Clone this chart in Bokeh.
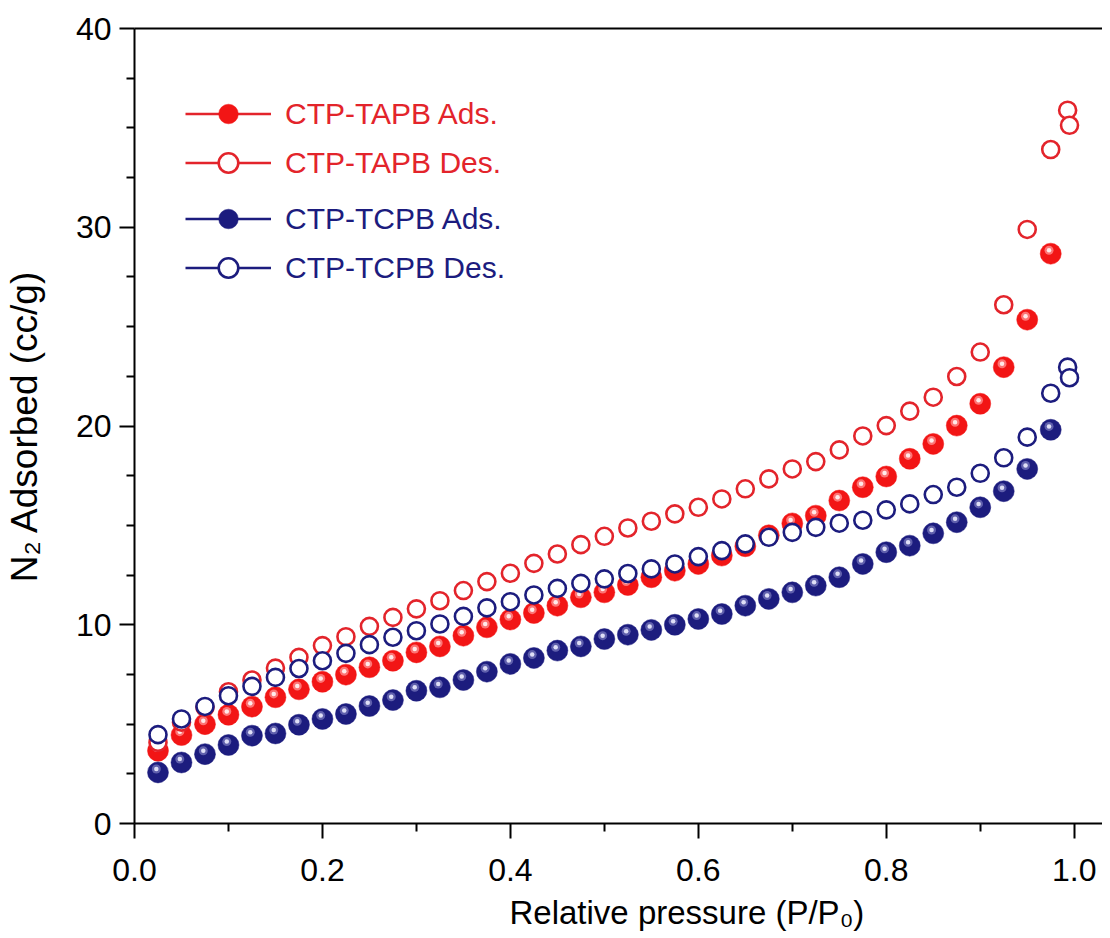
import numpy as np
from bokeh.plotting import figure
from bokeh.models import Range1d, FixedTicker, LinearAxis, Legend, LegendItem, Title
from bokeh.embed import file_html
from bokeh.resources import INLINE

# ---------------- data ----------------
p_ads = [0.025, 0.05, 0.075, 0.1, 0.125, 0.15, 0.175, 0.2, 0.225, 0.25,
         0.275, 0.3, 0.325, 0.35, 0.375, 0.4, 0.425, 0.45, 0.475, 0.5,
         0.525, 0.55, 0.575, 0.6, 0.625, 0.65, 0.675, 0.7, 0.725, 0.75,
         0.775, 0.8, 0.825, 0.85, 0.875, 0.9, 0.925, 0.95, 0.975]
p_des = p_ads + [0.993, 0.995]

tapb_ads = [3.66, 4.45, 5.00, 5.47, 5.88, 6.35, 6.75, 7.13, 7.49, 7.86,
            8.19, 8.61, 8.91, 9.45, 9.87, 10.26, 10.59, 10.96, 11.38, 11.63,
            12.00, 12.39, 12.72, 13.06, 13.48, 13.95, 14.50, 15.10, 15.49, 16.25,
            16.92, 17.46, 18.35, 19.10, 20.02, 21.12, 22.96, 25.35, 28.67]
tapb_des = [4.08, 5.10, 5.85, 6.63, 7.22, 7.82, 8.36, 8.95, 9.40, 9.92,
            10.37, 10.80, 11.21, 11.72, 12.17, 12.59, 13.09, 13.56, 14.03, 14.45,
            14.87, 15.21, 15.58, 15.91, 16.33, 16.84, 17.34, 17.84, 18.21, 18.80,
            19.50, 20.02, 20.75, 21.45, 22.49, 23.72, 26.10, 29.89, 33.91,
            35.89, 35.13]
tcpb_ads = [2.57, 3.07, 3.49, 3.95, 4.42, 4.53, 4.97, 5.26, 5.51, 5.91,
            6.21, 6.68, 6.85, 7.22, 7.64, 8.03, 8.33, 8.70, 8.91, 9.28,
            9.50, 9.74, 10.00, 10.29, 10.54, 10.96, 11.30, 11.63, 11.97, 12.39,
            13.06, 13.65, 13.98, 14.60, 15.16, 15.91, 16.72, 17.84, 19.81]
tcpb_des = [4.47, 5.26, 5.89, 6.43, 6.90, 7.35, 7.80, 8.19, 8.56, 9.00,
            9.37, 9.70, 10.04, 10.42, 10.85, 11.16, 11.50, 11.83, 12.08, 12.31,
            12.58, 12.81, 13.06, 13.43, 13.73, 14.07, 14.40, 14.65, 14.90, 15.11,
            15.26, 15.78, 16.08, 16.55, 16.92, 17.62, 18.40, 19.44, 21.65,
            22.96, 22.43]

series_labels = ["CTP-TAPB Ads.", "CTP-TAPB Des.", "CTP-TCPB Ads.", "CTP-TCPB Des."]

x_ticks = [0.0, 0.2, 0.4, 0.6, 0.8, 1.0]
x_minor = [0.1, 0.3, 0.5, 0.7, 0.9]
y_ticks = [0, 10, 20, 30, 40]
y_minor = [2.5, 5, 7.5, 12.5, 15, 17.5, 22.5, 25, 27.5, 32.5, 35, 37.5]
x_label = "Relative pressure (P/P\u2080)"
y_label = "N\u2082 Adsorbed (cc/g)"

# ---------------- style ----------------
FONT = "Liberation Sans"
RED = "#F21515"
RED_LINE = "#E3242B"
NAVY = "#1C1C7E"
W, H = 1102, 938

p = figure(width=W, height=H, output_backend="svg", toolbar_location=None,
           x_range=Range1d(0, 1.0301), y_range=Range1d(0, 40),
           min_border_left=134, min_border_right=0, min_border_top=28,
           min_border_bottom=115)
p.outline_line_color = None
p.grid.visible = False
p.background_fill_color = "white"
p.border_fill_color = "white"

def style_axis(ax, standoff):
    ax.axis_line_width = 2
    ax.axis_line_color = "black"
    ax.major_tick_line_width = 2
    ax.minor_tick_line_width = 2
    ax.major_tick_line_color = "black"
    ax.minor_tick_line_color = "black"
    ax.major_tick_out = 15
    ax.major_tick_in = 0
    ax.minor_tick_out = 8
    ax.minor_tick_in = 0
    ax.major_label_text_font = FONT
    ax.major_label_text_font_size = "32px"
    ax.major_label_text_color = "black"
    ax.major_label_standoff = standoff

p.xaxis.ticker = FixedTicker(ticks=x_ticks, minor_ticks=x_minor)
p.yaxis.ticker = FixedTicker(ticks=y_ticks, minor_ticks=y_minor)
p.xaxis.major_label_overrides = {t: f"{t:.1f}" for t in x_ticks}
style_axis(p.xaxis[0], 20)
style_axis(p.yaxis[0], 8)

p.yaxis.axis_label = y_label
p.yaxis.axis_label_text_font = FONT
p.yaxis.axis_label_text_font_size = "37px"
p.yaxis.axis_label_text_font_style = "normal"
p.yaxis.axis_label_text_color = "black"
p.yaxis.axis_label_standoff = 28

top = LinearAxis(ticker=FixedTicker(ticks=[]), axis_line_width=2, axis_line_color="black",
                 major_tick_out=0, major_tick_in=0, minor_tick_out=0, minor_tick_in=0,
                 major_label_text_font_size="0px")
p.add_layout(top, "above")

xt = Title(text=x_label, align="left", offset=375, vertical_align="bottom",
           text_font=FONT, text_font_size="33px", text_font_style="normal",
           text_color="black", standoff=16)
p.add_layout(xt, "below")

# ---------------- marks ----------------
def ball(xs, ys, base, mid, hi):
    r = p.scatter(xs, ys, size=21, fill_color=base, line_color=base, line_width=0.5)
    hx = np.array(xs) - 0.0018
    hy = np.array(ys) + 0.17
    p.scatter(hx, hy, size=9, fill_color=mid, line_color=None, fill_alpha=0.8)
    p.scatter(hx, hy, size=4.5, fill_color=hi, line_color=None, fill_alpha=0.95)
    return r

def ring(xs, ys, color):
    return p.scatter(xs, ys, size=17, fill_color="white", line_color=color, line_width=2.6)

r1 = ball(p_ads, tapb_ads, RED, "#FF8C8C", "#FFF0F0")
r2 = ring(p_des, tapb_des, RED_LINE)
r3 = ball(p_ads, tcpb_ads, NAVY, "#7070B8", "#E6E6FA")
r4 = ring(p_des, tcpb_des, NAVY)

l1 = p.line([np.nan], [np.nan], line_color=RED_LINE, line_width=2.5)
l2 = p.line([np.nan], [np.nan], line_color=RED_LINE, line_width=2.5)
l3 = p.line([np.nan], [np.nan], line_color=NAVY, line_width=2.5)
l4 = p.line([np.nan], [np.nan], line_color=NAVY, line_width=2.5)

def make_legend(items, loc, color):
    leg = Legend(items=items, location=loc, orientation="vertical",
                 glyph_width=86, glyph_height=49, label_height=49,
                 label_standoff=14, spacing=0, padding=0, margin=0,
                 border_line_color=None, background_fill_alpha=0,
                 label_text_font=FONT, label_text_font_size="30px",
                 label_text_color=color, label_text_baseline="middle")
    p.add_layout(leg)

make_legend([LegendItem(label=series_labels[0], renderers=[l1, r1]),
             LegendItem(label=series_labels[1], renderers=[l2, r2])], (51, 636), RED_LINE)
make_legend([LegendItem(label=series_labels[2], renderers=[l3, r3]),
             LegendItem(label=series_labels[3], renderers=[l4, r4])], (51, 531), NAVY)

open("out.html", "w").write(file_html(p, INLINE))
